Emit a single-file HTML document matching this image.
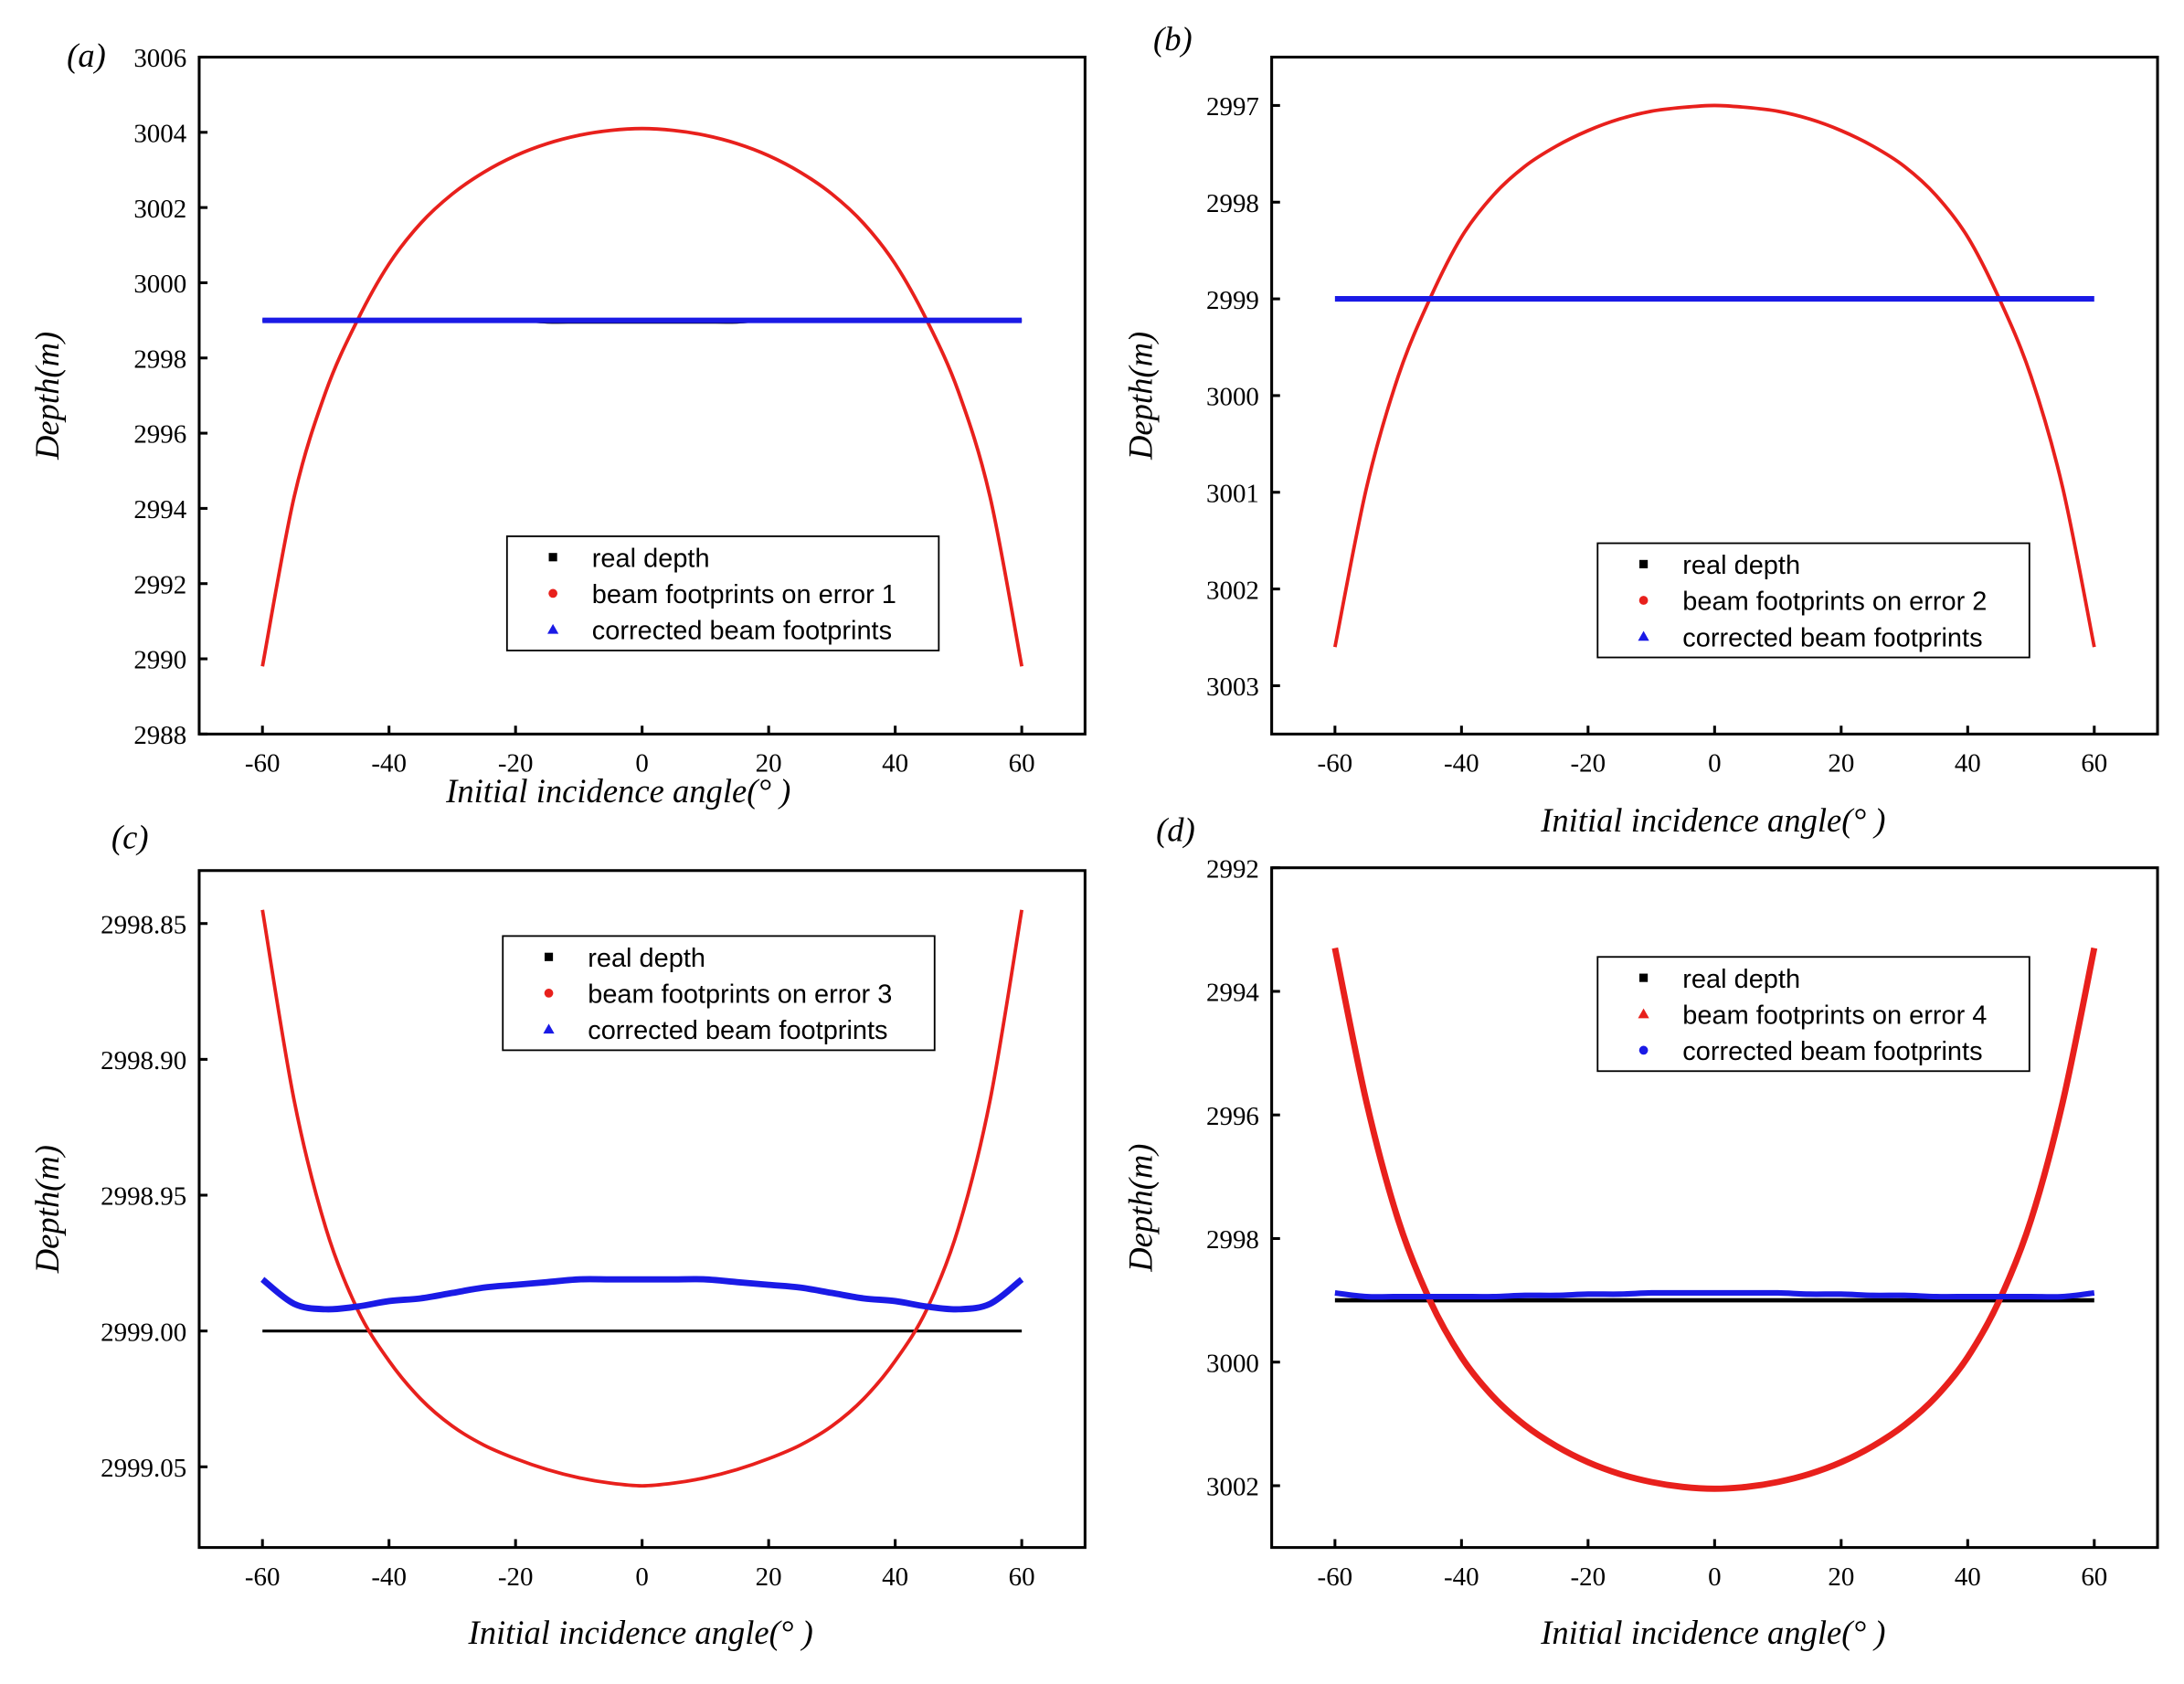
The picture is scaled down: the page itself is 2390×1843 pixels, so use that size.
<!DOCTYPE html>
<html><head><meta charset="utf-8"><style>body{margin:0;background:#fff}svg{display:block}</style></head>
<body>
<svg id="fig" width="2390" height="1843" viewBox="0 0 1568 1209" preserveAspectRatio="none" xmlns="http://www.w3.org/2000/svg"></svg>
<script>
const angles=[-60,-55,-50,-45,-40,-35,-30,-25,-20,-15,-10,-5,0,5,10,15,20,25,30,35,40,45,50,55,60];
const half=(h)=>h.slice().reverse().concat(h.slice(1));
const redA=half([3004.1,3004.05,3003.92,3003.7,3003.38,3002.94,3002.36,3001.58,3000.5,2999.0,2997.1,2994.3,2989.8]);
const blueA=half([2999.0,2999.0,2999.0,2999.0,2999.0,2999.0,2999.0,2999.0,2999.0,2999.0,2999.0,2999.0,2999.0]);
const blackA=half([2998.95,2998.95,2998.95,2998.95,2999.0,2999.0,2999.0,2999.0,2999.0,2999.0,2999.0,2999.0,2999.0]);
const redB=half([2997.0,2997.02,2997.06,2997.14,2997.26,2997.42,2997.63,2997.93,2998.36,2999.0,2999.8,3000.95,3002.6]);
const blueB=half([2999.0,2999.0,2999.0,2999.0,2999.0,2999.0,2999.0,2999.0,2999.0,2999.0,2999.0,2999.0,2999.0]);
const redC=half([2999.057,2999.056,2999.054,2999.051,2999.047,2999.042,2999.035,2999.025,2999.011,2998.992,2998.962,2998.915,2998.845]);
const blueC=half([2998.981,2998.981,2998.981,2998.982,2998.983,2998.984,2998.986,2998.988,2998.989,2998.991,2998.992,2998.99,2998.981]);
const blackC=half([2999.0,2999.0,2999.0,2999.0,2999.0,2999.0,2999.0,2999.0,2999.0,2999.0,2999.0,2999.0,2999.0]);
const redD=half([3002.05,3002.02,3001.94,3001.81,3001.62,3001.36,3001.02,3000.56,2999.92,2999.0,2997.7,2995.8,2993.3]);
const blueD=half([2998.88,2998.88,2998.88,2998.9,2998.9,2998.92,2998.92,2998.94,2998.94,2998.94,2998.94,2998.94,2998.88]);
const blackD=half([2999.0,2999.0,2999.0,2999.0,2999.0,2999.0,2999.0,2999.0,2999.0,2999.0,2999.0,2999.0,2999.0]);
const xTicks=[-60,-40,-20,0,20,40,60];
const yTicksA=[2988,2990,2992,2994,2996,2998,3000,3002,3004,3006];
const yTicksB=[2997,2998,2999,3000,3001,3002,3003];
const yTicksC=[2998.85,2998.90,2998.95,2999.00,2999.05];
const yTicksD=[2992,2994,2996,2998,3000,3002];
const legA=["real depth","beam footprints on error 1","corrected beam footprints"];
const legB=["real depth","beam footprints on error 2","corrected beam footprints"];
const legC=["real depth","beam footprints on error 3","corrected beam footprints"];
const legD=["real depth","beam footprints on error 4","corrected beam footprints"];

const NS="http://www.w3.org/2000/svg";
const svg=document.getElementById('fig');
function mk(tag,attrs,parent,text){const e=document.createElementNS(NS,tag);for(const k in attrs)e.setAttribute(k,attrs[k]);if(text!==undefined)e.textContent=text;(parent||svg).appendChild(e);return e;}
function smoothPath(pts){
  let d='M'+pts[0][0]+','+pts[0][1];
  for(let i=0;i<pts.length-1;i++){
    const p0=pts[Math.max(0,i-1)],p1=pts[i],p2=pts[i+1],p3=pts[Math.min(pts.length-1,i+2)];
    const c1=[p1[0]+(p2[0]-p0[0])/6,p1[1]+(p2[1]-p0[1])/6];
    const c2=[p2[0]-(p3[0]-p1[0])/6,p2[1]-(p3[1]-p1[1])/6];
    d+=' C'+c1.join(',')+' '+c2.join(',')+' '+p2.join(',');
  }
  return d;
}
function panel(o){
  const g=mk('g',{});
  
  
  const sx=v=>o.x0+(v+70)/140*(o.x1-o.x0);
  const sy=v=>o.y0+(v-o.ytop)/(o.ybot-o.ytop)*(o.y1-o.y0);
  const line=(vals,col,w,name)=>{
    const p=mk('path',{d:smoothPath(angles.map((a,i)=>[sx(a),sy(vals[i])])),fill:'none',stroke:col,'stroke-width':w,'stroke-linejoin':'round'},g);
    
    
  };
  if(o.black)line(o.black,'#000',o.bw||2,'real-depth-line');
  line(o.red,'#e8201c',o.rw,'error-footprints-curve');
  line(o.blue,'#1a1ae6',o.blw,'corrected-footprints-line');
  const f=mk('rect',{x:o.x0,y:o.y0,width:o.x1-o.x0,height:o.y1-o.y0,fill:'none',stroke:'#000','stroke-width':2},g);
  
  
  xTicks.forEach(t=>{
    mk('line',{x1:sx(t),x2:sx(t),y1:o.y1,y2:o.y1-6,stroke:'#000','stroke-width':2},g);
    const tx=mk('text',{x:sx(t),y:o.y1+27,'text-anchor':'middle','font-family':'Liberation Serif, serif','font-size':19},g,String(t));
    
    
  });
  o.yt.forEach(t=>{
    const y=sy(t);
    mk('line',{x1:o.x0,x2:o.x0+6,y1:y,y2:y,stroke:'#000','stroke-width':2},g);
    const tx=mk('text',{x:o.x0-9,y:y+7,'text-anchor':'end','font-family':'Liberation Serif, serif','font-size':19},g,o.dec?t.toFixed(o.dec):String(t));
    
    
  });
  const xt=mk('text',{x:o.xtx,y:o.xty,'text-anchor':'middle','font-family':'Liberation Serif, serif','font-size':24,'font-style':'italic'},g,'Initial incidence angle(°  )');
  
  
  const yt=mk('text',{x:0,y:0,transform:`translate(${o.ytx},${(o.y0+o.y1)/2}) rotate(-90)`,'text-anchor':'middle','font-family':'Liberation Serif, serif','font-size':24,'font-style':'italic'},g,'Depth(m)');
  
  
  const pl=mk('text',{x:o.lx,y:o.ly,'font-family':'Liberation Serif, serif','font-size':24,'font-style':'italic'},g,'('+o.id+')');
  
  
  const lg=mk('g',{},g);
  
  
  mk('rect',{x:o.gx,y:o.gy,width:310,height:82,fill:'#fff',stroke:'#000','stroke-width':1.2},lg);
  const cols=['#000','#e8201c','#1a1ae6'];
  o.leg.forEach((s,i)=>{
    const cy=o.gy+15+i*26;
    const mx=o.gx+33;
    const shape=o.shapes[i];
    if(shape==='s')mk('rect',{x:mx-3,y:cy-3,width:6,height:6,fill:cols[i]},lg);
    else if(shape==='c')mk('circle',{cx:mx,cy:cy,r:3.2,fill:cols[i]},lg);
    else mk('polygon',{points:`${mx},${cy-4} ${mx-4},${cy+3} ${mx+4},${cy+3}`,fill:cols[i]},lg);
    const t=mk('text',{x:o.gx+61,y:cy+7,'font-family':'Liberation Sans, sans-serif','font-size':19},lg,s);
    
    
  });
}
panel({id:'a',x0:143,x1:779,y0:41,y1:527,ytop:3006,ybot:2988,yt:yTicksA,red:redA,blue:blueA,black:blackA,rw:2.5,blw:4,
  xtx:444,xty:576,ytx:42,lx:48,ly:48,gx:364,gy:385,leg:legA,shapes:['s','c','t']});
panel({id:'b',x0:913,x1:1549,y0:41,y1:527,ytop:2996.5,ybot:3003.5,yt:yTicksB,red:redB,blue:blueB,rw:2.5,blw:4,
  xtx:1230,xty:597,ytx:827,lx:828,ly:36,gx:1147,gy:390,leg:legB,shapes:['s','c','t']});
panel({id:'c',x0:143,x1:779,y0:625,y1:1111,ytop:2998.8305,ybot:2999.0797,yt:yTicksC,dec:2,red:redC,blue:blueC,black:blackC,rw:2.5,blw:4.5,
  xtx:460,xty:1180,ytx:42,lx:80,ly:609,gx:361,gy:672,leg:legC,shapes:['s','c','t']});
panel({id:'d',x0:913,x1:1549,y0:623,y1:1111,ytop:2992,ybot:3003,yt:yTicksD,red:redD,blue:blueD,black:blackD,rw:4.5,blw:4,bw:3,
  xtx:1230,xty:1180,ytx:827,lx:830,ly:604,gx:1147,gy:687,leg:legD,shapes:['s','t','c']});
</script>
</body></html>
